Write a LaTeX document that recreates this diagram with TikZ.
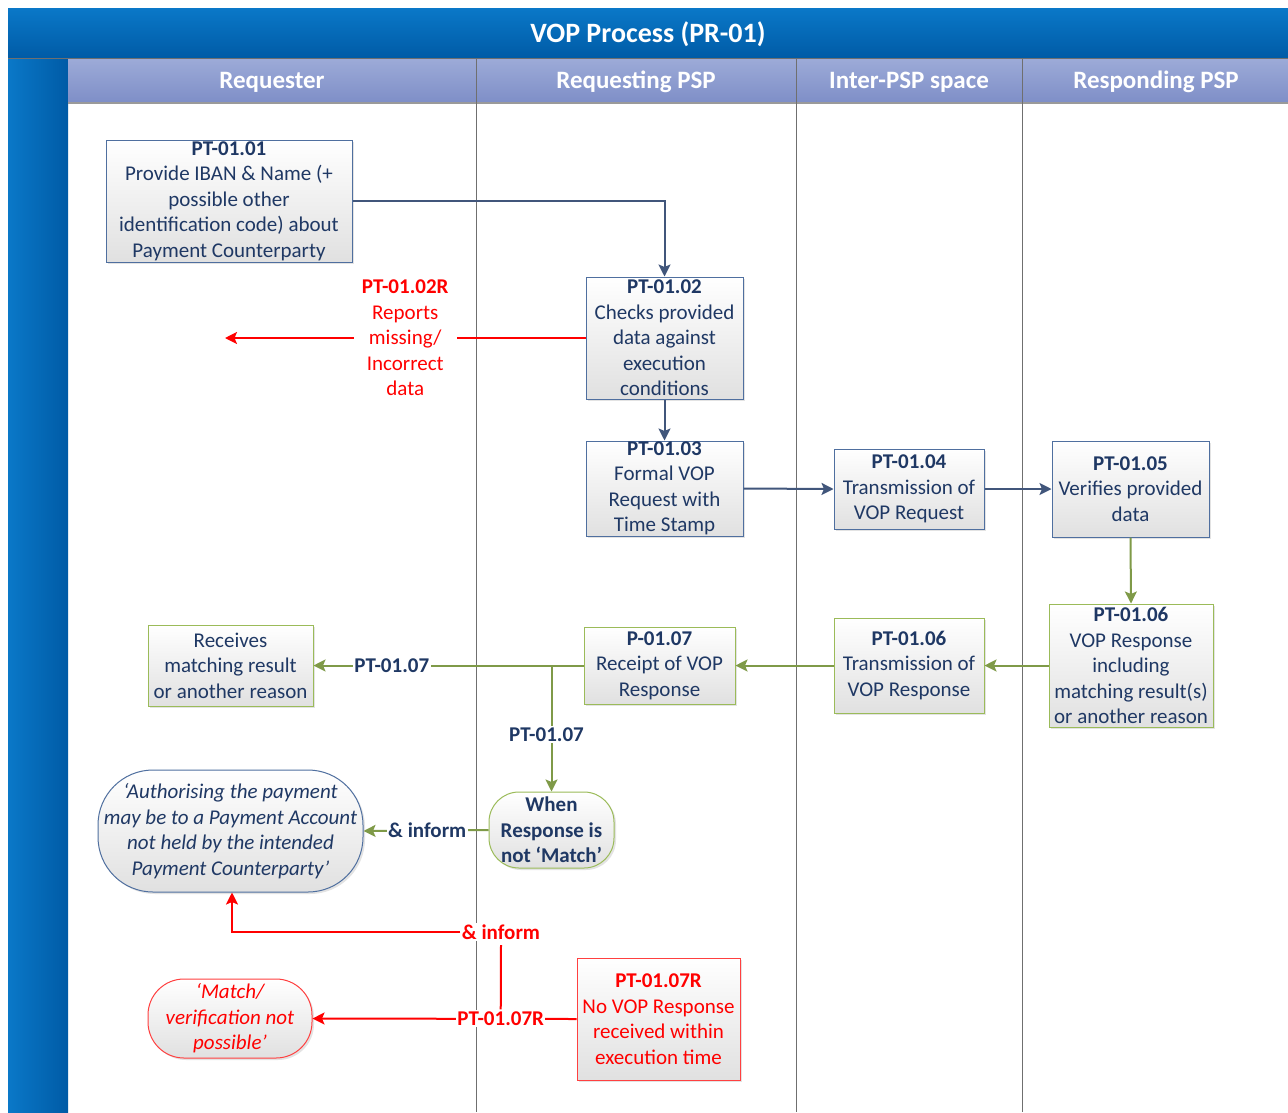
\documentclass[tikz,border=0pt]{standalone}
\usepackage{fontspec}
\setmainfont{Carlito}
\usetikzlibrary{shadows,arrows.meta}
\definecolor{navy}{HTML}{1F3864}
\definecolor{boxblue}{HTML}{4F6F9F}
\definecolor{grn}{HTML}{9BBB59}
\definecolor{grnline}{HTML}{7F9A48}
\definecolor{titleA}{HTML}{0A78C8}
\definecolor{titleB}{HTML}{005BA6}
\definecolor{laneA}{HTML}{9DABD8}
\definecolor{laneB}{HTML}{7E8EC7}
\definecolor{lanegray}{HTML}{6F6F6F}
\definecolor{vred}{HTML}{FF0000}
\begin{document}
\begin{tikzpicture}[x=1pt,y=-1pt,
  base/.style={line width=1pt, top color=white, bottom color=black!12,
    drop shadow={shadow xshift=2pt,shadow yshift=-2pt,opacity=0.22},
    align=center, inner sep=0pt, font=\fontsize{21}{25.5}\selectfont},
  bbox/.style={base, draw=boxblue, text=navy},
  gbox/.style={base, draw=grn, text=navy},
  rbox/.style={base, draw=vred!75, text=vred},
  tip/.style={-{Stealth[length=12pt,width=12pt,inset=2.5pt]}},
  navyarrow/.style={draw=navy!85, line width=2pt, tip},
  grnarrow/.style={draw=grnline, line width=2pt, tip},
  redarrow/.style={draw=vred, line width=2pt, tip},
  redline/.style={draw=vred, line width=2pt},
  lab/.style={fill=white, inner sep=1.5pt, font=\fontsize{21}{25.5}\selectfont\bfseries, text=navy},
  rlab/.style={fill=white, inner sep=1.5pt, font=\fontsize{21}{25.5}\selectfont\bfseries, text=vred},
  lanehead/.style={text=white, font=\fontsize{25}{28}\selectfont\bfseries},
  laneline/.style={draw=lanegray, line width=0.8pt}
]
\useasboundingbox (0,0) rectangle (1288,1112);
\fill[white] (0,0) rectangle (1288,1112);
% title bar
\shade[top color=titleA, bottom color=titleB] (8,8) rectangle (1288,58);
\node[text=white, font=\fontsize{28}{32}\selectfont\bfseries] (title) at (648,34) {VOP Process (PR-01)};
% left strip
\shade[left color=titleA, right color=titleB] (8,58) rectangle (68,1112);
% lane header
\shade[top color=laneA, bottom color=laneB] (68,58) rectangle (1288,103);
\draw[lanegray, line width=1pt] (8,58) -- (1288,58);
\draw[lanegray!70, line width=1.5pt] (68,103) -- (1288,103);
\node[lanehead] (h1) at (272,82) {Requester};
\node[lanehead] (h2) at (636,82) {Requesting PSP};
\node[lanehead] (h3) at (909,82) {Inter-PSP space};
\node[lanehead] (h4) at (1156,82) {Responding PSP};
% lane lines
\draw[laneline] (476,58) -- (476,1112);
\draw[laneline] (796,58) -- (796,1112);
\draw[laneline] (1022,58) -- (1022,1112);

% nodes
\node[bbox, minimum width=246pt, minimum height=122pt] (n1) at (229,201)
  {\textbf{PT-01.01}\\Provide IBAN \& Name (+\\possible other\\identification code) about\\Payment Counterparty};
\node[bbox, minimum width=157pt, minimum height=122pt] (n2) at (664.5,338)
  {\textbf{PT-01.02}\\Checks provided\\data against\\execution\\conditions};
\node[bbox, minimum width=157pt, minimum height=95pt] (n3) at (664.5,488.5)
  {\textbf{PT-01.03}\\Formal VOP\\Request with\\Time Stamp};
\node[bbox, minimum width=150pt, minimum height=80pt] (n4) at (909,489)
  {\textbf{PT-01.04}\\Transmission of\\VOP Request};
\node[bbox, minimum width=157pt, minimum height=96pt] (n5) at (1130.5,489)
  {\textbf{PT-01.05}\\Verifies provided\\data};
\node[gbox, minimum width=164pt, minimum height=123pt] (n6) at (1131,665.5)
  {\textbf{PT-01.06}\\VOP Response\\including\\matching result(s)\\or another reason};
\node[gbox, minimum width=150pt, minimum height=95pt] (n6t) at (909,665.5)
  {\textbf{PT-01.06}\\Transmission of\\VOP Response};
\node[gbox, minimum width=151pt, minimum height=77pt] (n7) at (659.5,665.5)
  {\textbf{P-01.07}\\Receipt of VOP\\Response};
\node[gbox, minimum width=165pt, minimum height=81pt] (recv) at (230.5,665.5)
  {Receives\\matching result\\or another reason};
\node[gbox, rounded corners=30pt, minimum width=125pt, minimum height=76pt, font=\fontsize{21}{25.5}\selectfont\bfseries] (when) at (551.5,830)
  {When\\Response is\\not ‘Match’};
\node[bbox, rounded corners=55pt, minimum width=265pt, minimum height=122pt, font=\fontsize{21}{25.5}\selectfont\itshape] (auth) at (230.5,831)
  {‘Authorising the payment\\may be to a Payment Account\\not held by the intended\\Payment Counterparty’};
\node[rbox, minimum width=163pt, minimum height=122pt] (r7) at (658.5,1019)
  {\textbf{PT-01.07R}\\No VOP Response\\received within\\execution time};
\node[rbox, rounded corners=36pt, minimum width=164pt, minimum height=79pt, font=\fontsize{21}{25.5}\selectfont\itshape] (match) at (230,1018.5)
  {‘Match/\\verification not\\possible’};

% connectors
\draw[navyarrow] (n1.east) -| (n2.north);
\coordinate (rep) at (225,338);
\draw[redarrow] (n2.west) -- node[pos=0.5, fill=white, inner xsep=8pt, inner ysep=0pt, text=vred, align=center, font=\fontsize{21}{25.5}\selectfont] (l2)
  {\textbf{PT-01.02R}\\Reports\\missing/\\Incorrect\\data} (rep);
\draw[navyarrow] (n2.south) -- (n3.north);
\draw[navyarrow] (n3.east) -- (n4.west);
\draw[navyarrow] (n4.east) -- (n5.west);
\draw[grnarrow] (n5.south) -- (n6.north);
\draw[grnarrow] (n6.west) -- (n6t.east);
\draw[grnarrow] (n6t.west) -- (n7.east);
\draw[grnarrow] (n7.west) -- node[pos=0.71, lab] (l7) {PT-01.07} (recv.east);
\coordinate (br) at (551.5,665.5);
\draw[grnarrow] (br) -- node[pos=0.55, lab, xshift=-5pt] (l7b) {PT-01.07} (when.north);
\draw[grnarrow] (when.west) -- node[pos=0.49, lab] (inf1) {\& inform} (auth.east);
\draw[redarrow] (r7.west) -- node[pos=0.287, rlab] (l7R) {PT-01.07R} (match.east);
\node[rlab] (inf2) at (501,932) {\& inform};
\draw[redline] (l7R.north) -- ([yshift=-4pt]inf2.south);
\draw[redarrow] (inf2.west) -| ([xshift=1.5pt]auth.south);
\end{tikzpicture}
\end{document}
